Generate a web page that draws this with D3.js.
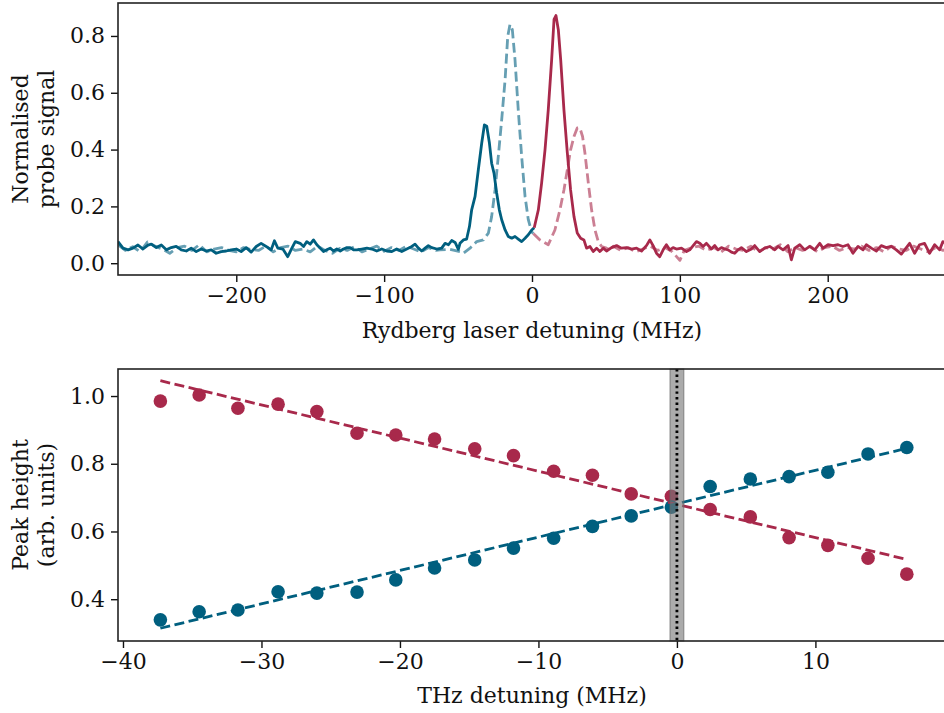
<!DOCTYPE html>
<html>
<head>
<meta charset="utf-8">
<script src="https://cdn.jsdelivr.net/npm/d3@7/dist/d3.min.js"></script>
<style>
  html, body { margin: 0; padding: 0; background: #fff; }
  svg { display: block; }
  text { font-family: "DejaVu Serif", serif; fill: #111; }
</style>
</head>
<body>
<svg id="chart" width="944" height="713"></svg>
<script>
// ---------- Top panel: probe spectra vs Rydberg laser detuning (MHz) ----------
const blueSolidX = [-280,-276.6,-273.2,-269.9,-266.5,-263.1,-259.7,-257.5,-254.1,-250.7,-247.3,-244.0,-240.6,-237.2,-233.8,-230.5,-227.1,-223.7,-220.3,-216.9,-213.6,-210.2,-206.8,-203.4,-200.0,-196.7,-193.3,-189.9,-186.5,-183.2,-179.8,-176.4,-174.2,-171.9,-168.5,-165.2,
  -164.6,-162.4,-160.1,-156.8,-154.5,-152.3,-150.0,-147.8,-145.5,-143.3,-141.0,-138.8,-136.5,-134.2,-132.0,-129.7,-127.5,-125.2,-123.0,-120.7,-118.5,-115.1,-111.7,-108.3,-105.0,-101.6,-98.2,-94.8,-91.5,-88.1,-84.7,-81.3,-79.1,-76.8,-74.6,-72.3,-70.1,-67.8,-64.4,-61.1,
  -58.8,-56.5,-54.3,-52.0,-49.8,-48.7,-46.4,-44.2,-42.3,-40.8,-38.5,-36.3,-34.0,-32.2,-30.6,-28.8,-27.3,-25.7,-23.9,-22.1,-20.5,-18.2,-16.0,-13.7,-11.5,-9.3,-7.0,-4.7,-2.5,-0.2,1.5];
const blueSolidY = [0.076,0.053,0.047,0.053,0.064,0.050,0.064,0.067,0.055,0.064,0.047,0.055,0.059,0.047,0.043,0.053,0.041,0.050,0.043,0.047,0.035,0.041,0.043,0.047,0.050,0.041,0.055,0.039,0.059,0.070,0.059,0.047,0.079,0.053,0.050,0.023,
  0.029,0.053,0.076,0.070,0.059,0.076,0.067,0.082,0.065,0.053,0.041,0.047,0.053,0.043,0.050,0.043,0.050,0.055,0.055,0.047,0.047,0.050,0.053,0.050,0.043,0.050,0.043,0.041,0.050,0.041,0.050,0.059,0.067,0.053,0.043,0.053,0.062,0.055,0.050,0.053,
  0.070,0.065,0.080,0.073,0.049,0.070,0.082,0.085,0.129,0.188,0.235,0.329,0.423,0.487,0.482,0.423,0.352,0.317,0.247,0.188,0.153,0.117,0.094,0.088,0.094,0.085,0.076,0.088,0.100,0.117,0.125];

const blueDashX = [-280,-275,-270,-265,-260,-255,-250,-245,-240,-235,-230,-225,-220,-215,-210,-205,-200,-195,-190,-185,-180,-175,-170,-165,-160,-155,-150,-145,-140,-135,-130,-125,-120,-115,-110,-105,-100,-95,-90,-85,-80,-75,-70,-65,
  -62.2,-55.4,-48.7,-46.4,-41.9,-37.4,-32.9,-29.5,-27.3,-25.0,-22.8,-20.5,-18.2,-16.4,-14.9,-13.3,-11.5,-9.3,-7.0,-4.7,-2.5,-0.2,0.9];
const blueDashY = [0.065,0.045,0.058,0.040,0.075,0.060,0.050,0.035,0.055,0.060,0.045,0.065,0.040,0.050,0.055,0.045,0.040,0.055,0.048,0.045,0.060,0.040,0.055,0.060,0.045,0.050,0.040,0.060,0.045,0.035,0.052,0.045,0.058,0.040,0.050,0.060,0.042,0.055,0.045,0.060,0.050,0.040,0.055,0.045,
  0.047,0.049,0.041,0.035,0.053,0.076,0.082,0.106,0.164,0.258,0.376,0.505,0.646,0.799,0.840,0.822,0.717,0.540,0.376,0.235,0.153,0.110,0.105];

const redSolidX = [1.5,4.3,6.5,8.8,11.0,13.3,14.9,16.2,17.8,19.4,21.6,23.9,26.1,28.4,30.6,32.9,35.1,36.9,39.2,41.4,43.7,
  45.9,48.2,50.4,53.8,57.2,60.5,63.9,67.3,70.7,74.1,77.4,79.7,81.9,84.2,86.4,88.7,90.9,93.2,95.4,97.7,101.1,104.5,106.7,109.0,111.2,113.5,115.7,118.0,121.3,123.6,125.8,128.1,130.3,132.6,134.9,137.1,139.4,141.6,145.0,148.4,150.6,154.0,157.4,
  160.8,164.2,166.4,169.8,173.2,175.4,177.7,181.1,184.4,187.8,191.2,194.6,196.8,200.2,203.6,207.0,210.3,213.7,217.1,220.5,223.9,226.1,229.5,232.9,236.2,239.6,243.0,246.4,249.8,252.0,255.4,258.8,262.1,265.5,268.9,272.3,275.7,277.9,280];
const redSolidY = [0.125,0.188,0.282,0.399,0.540,0.717,0.858,0.872,0.822,0.717,0.540,0.388,0.258,0.164,0.106,0.088,0.082,0.053,0.059,0.041,0.053,
  0.041,0.053,0.043,0.055,0.062,0.053,0.055,0.050,0.053,0.043,0.062,0.082,0.062,0.035,0.023,0.047,0.065,0.047,0.055,0.050,0.053,0.041,0.047,0.062,0.076,0.070,0.059,0.070,0.050,0.062,0.047,0.055,0.050,0.047,0.039,0.035,0.047,0.055,0.041,0.050,0.062,0.041,0.053,
  0.059,0.047,0.059,0.047,0.062,0.012,0.053,0.065,0.047,0.059,0.047,0.070,0.053,0.065,0.062,0.065,0.059,0.065,0.035,0.059,0.047,0.065,0.053,0.043,0.062,0.055,0.059,0.047,0.032,0.047,0.070,0.035,0.065,0.070,0.035,0.065,0.047,0.076,0.070];

const redDashX = [0.9,5.4,11.0,15.5,18.9,21.6,23.9,26.1,28.4,30.6,32.4,34.2,35.8,38.1,40.3,42.6,44.8,47.1,50.4,52.7,
  55,60,65,70,75,80,85,90,95,100,103,108,113,118,123,128,133,138,143,148,153,158,163,168,173,178,183,188,193,198,203,208,213,218,223,228,233,238,243,248,253,258,263,268,273,278,280];
const redDashY = [0.105,0.082,0.065,0.117,0.188,0.258,0.329,0.399,0.446,0.476,0.476,0.446,0.388,0.282,0.188,0.117,0.076,0.059,0.053,0.047,
  0.060,0.045,0.055,0.040,0.050,0.060,0.045,0.055,0.040,0.010,0.045,0.055,0.060,0.045,0.055,0.040,0.060,0.050,0.045,0.060,0.040,0.055,0.050,0.065,0.040,0.055,0.045,0.060,0.040,0.055,0.060,0.045,0.055,0.050,0.060,0.045,0.055,0.040,0.060,0.050,0.045,0.060,0.050,0.040,0.055,0.045,0.050];

const topXTicks = [-200, -100, 0, 100, 200];
const topYTicks = [0.0, 0.2, 0.4, 0.6, 0.8];

// ---------- Bottom panel: peak heights vs THz detuning (MHz) ----------
const thzDetuning = [-37.3,-34.5,-31.7,-28.8,-26.0,-23.1,-20.3,-17.5,-14.6,-11.8,-8.9,-6.1,-3.3,-0.4,2.4,5.3,8.1,10.9,13.8,16.6];
const redPeak  = [0.985,1.003,0.964,0.976,0.954,0.890,0.885,0.873,0.844,0.824,0.778,0.766,0.711,0.704,0.665,0.643,0.582,0.559,0.521,0.474];
const bluePeak = [0.339,0.363,0.368,0.422,0.418,0.421,0.457,0.492,0.516,0.551,0.580,0.615,0.646,0.672,0.733,0.755,0.762,0.775,0.829,0.848];
// straight-line fits: [slope, intercept]
const redFit  = [-0.00979, 0.680];
const blueFit = [0.00986, 0.682];
const fitRange = [-37.3, 16.6];
const bandHalfWidth = 0.5;

const botXTicks = [-40, -30, -20, -10, 0, 10];
const botYTicks = [0.4, 0.6, 0.8, 1.0];

const colBlue = "#005f7f", colRed = "#a8294b";
const colBlueLight = "#669fb3", colRedLight = "#cb7f93";
const FONT = 22;
const LW = 2.8;
const DASH = "10,4.5";

const svg = d3.select("#chart");
const fmtMinus = s => s.replace("-", "\u2212");

function frame(g, x, y, xTicks, yTicks, yFmt) {
  const [x0, x1] = x.range(), [y0, y1] = y.range();
  const xa = g.append("g").attr("transform", `translate(0,${y0})`)
    .call(d3.axisBottom(x).tickValues(xTicks).tickSize(7).tickPadding(5).tickFormat(d => fmtMinus(d3.format("d")(d))));
  const ya = g.append("g").attr("transform", `translate(${x0},0)`)
    .call(d3.axisLeft(y).tickValues(yTicks).tickSize(7).tickPadding(6).tickFormat(yFmt));
  [xa, ya].forEach(a => {
    a.select(".domain").remove();
    a.selectAll(".tick line").attr("stroke", "#111").attr("stroke-width", 1.4);
    a.selectAll(".tick text").style("font-family", "DejaVu Serif").style("font-size", FONT + "px").attr("fill", "#111");
  });
  g.append("rect").attr("x", x0).attr("y", y1).attr("width", x1 - x0).attr("height", y0 - y1)
    .attr("fill", "none").attr("stroke", "#222").attr("stroke-width", 1.6);
}

function ylabel(lines, cx, cy) {
  const t = svg.append("text").attr("transform", `translate(${cx},${cy}) rotate(-90)`)
    .attr("text-anchor", "middle").style("font-size", FONT + "px");
  lines.forEach((l, i) => t.append("tspan").attr("x", 0).attr("dy", i === 0 ? 0 : 26).text(l));
}

// ----- top panel -----
const xT = d3.scaleLinear().domain([-280, 280]).range([118, 946]);
const yT = d3.scaleLinear().domain([-0.0415, 0.916]).range([275, 3]);
const gT = svg.append("g");
svg.append("clipPath").attr("id", "clipT").append("rect")
  .attr("x", 118).attr("y", 3).attr("width", 828).attr("height", 272);

const lineT = d3.line().x(d => xT(d[0])).y(d => yT(d[1]));
const zip = (a, b) => a.map((v, i) => [v, b[i]]);
const curves = [
  { x: blueDashX, y: blueDashY, c: colBlueLight, dash: DASH },
  { x: redDashX, y: redDashY, c: colRedLight, dash: DASH },
  { x: blueSolidX, y: blueSolidY, c: colBlue, dash: null },
  { x: redSolidX, y: redSolidY, c: colRed, dash: null }
];
const gCurves = gT.append("g").attr("clip-path", "url(#clipT)");
curves.forEach(s => {
  gCurves.append("path").datum(zip(s.x, s.y)).attr("d", lineT)
    .attr("fill", "none").attr("stroke", s.c).attr("stroke-width", LW)
    .attr("stroke-linejoin", "round")
    .attr("stroke-dasharray", s.dash);
});
frame(gT, xT, yT, topXTicks, topYTicks, d3.format(".1f"));
svg.append("text").attr("x", 532).attr("y", 338).attr("text-anchor", "middle")
  .style("font-size", FONT + "px").text("Rydberg laser detuning (MHz)");
ylabel(["Normalised", "probe signal"], 28, 139);

// ----- bottom panel -----
const xB = d3.scaleLinear().domain([-40.36, 19.43]).range([118, 946]);
const yB = d3.scaleLinear().domain([0.2766, 1.0798]).range([641, 369]);
const gB = svg.append("g");
const gPts = gB.append("g");
[[redPeak, colRed], [bluePeak, colBlue]].forEach(([vals, c]) => {
  gPts.selectAll(null).data(zip(thzDetuning, vals)).enter().append("circle")
    .attr("cx", d => xB(d[0])).attr("cy", d => yB(d[1])).attr("r", 6.8).attr("fill", c);
});
[[redFit, colRed], [blueFit, colBlue]].forEach(([f, c]) => {
  const fitLine = d3.line().x(d => xB(d)).y(d => yB(f[0] * d + f[1]));
  gB.append("path").attr("d", fitLine(fitRange))
    .attr("fill", "none").attr("stroke", c).attr("stroke-width", LW).attr("stroke-dasharray", DASH);
});
// resonance band and centre marker
gB.append("rect").attr("x", xB(-bandHalfWidth)).attr("y", 369)
  .attr("width", xB(bandHalfWidth) - xB(-bandHalfWidth)).attr("height", 272)
  .attr("fill", "rgba(120,120,120,0.62)").attr("stroke", "rgba(100,100,100,0.7)").attr("stroke-width", 1);
gB.append("line").attr("x1", xB(0)).attr("x2", xB(0)).attr("y1", 369).attr("y2", 641)
  .attr("stroke", "#000").attr("stroke-width", 2.8).attr("stroke-dasharray", "2.4,3.2");
frame(gB, xB, yB, botXTicks, botYTicks, d3.format(".1f"));
svg.append("text").attr("x", 532).attr("y", 703).attr("text-anchor", "middle")
  .style("font-size", FONT + "px").text("THz detuning (MHz)");
ylabel(["Peak height", "(arb. units)"], 28, 505);
</script>
</body>
</html>
